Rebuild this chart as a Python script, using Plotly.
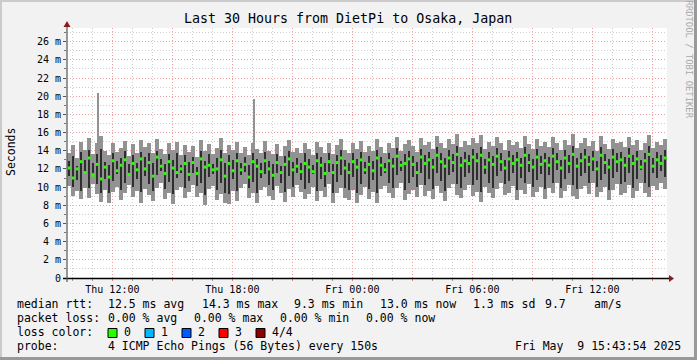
import pandas as pd
import plotly.graph_objects as go

# ---------------- data (milliseconds) ----------------
start_time = "2025-05-08 09:43:54"
end_time = "2025-05-09 15:43:54"
bin_minutes = 12

ping_min = [
10.1,9.0,9.6,8.7,9.9,8.8,10.3,9.2,8.4,9.7,
8.2,9.5,10.0,8.6,9.3,10.2,8.9,9.6,8.3,9.8,
9.1,8.5,9.9,10.4,8.7,9.4,8.1,9.7,10.0,8.8,
9.5,10.2,8.9,9.3,8.0,9.8,10.1,8.6,9.2,8.3,
8.1,9.6,8.5,9.9,10.3,8.8,9.4,8.2,9.7,10.0,
9.0,8.6,10.1,9.3,8.4,9.8,8.9,10.2,9.5,8.7,
9.2,10.0,8.5,9.6,8.9,10.3,8.2,9.4,9.9,8.8,
8.6,9.7,8.3,9.1,10.0,8.7,9.5,8.2,9.8,10.1,
9.3,8.8,9.9,10.4,8.6,9.2,9.7,8.9,10.2,9.0,
9.6,8.7,10.1,9.4,8.5,9.9,10.3,9.1,8.8,9.7,
10.2,9.0,9.5,8.4,10.0,9.3,8.8,9.8,10.4,9.1,
9.4,10.1,8.6,9.7,9.2,10.3,8.9,9.5,10.0,8.7,
9.9,9.3,10.5,8.8,9.6,10.2,9.0,8.7,9.8,10.1,
9.2,10.4,8.9,9.5,10.0,8.6,9.7,10.3,9.1,9.4,
10.2,8.8,9.6,10.5,9.3,8.9,10.1,9.7,10.4,9.8]

ping_q1 = [
11.2,10.0,10.8,9.6,11.5,9.9,11.6,10.3,9.4,10.9,
9.3,10.7,11.4,9.7,10.4,11.6,10.0,10.9,9.5,11.2,
10.3,9.6,11.3,11.8,9.8,10.6,9.2,11.0,11.5,9.9,
10.7,11.6,10.1,10.5,9.1,11.1,11.4,9.7,10.4,9.4,
9.2,10.9,9.6,11.3,11.7,9.9,10.6,9.3,11.0,11.4,
10.2,9.7,11.5,10.5,9.5,11.2,10.0,11.6,10.8,9.8,
10.4,11.4,9.6,10.9,10.0,11.7,9.3,10.6,11.3,9.9,
9.7,11.1,9.4,10.3,11.4,9.8,10.8,9.3,11.2,11.5,
10.5,9.9,11.3,11.8,9.7,10.4,11.1,10.0,11.6,10.2,
10.9,9.8,11.5,10.7,9.6,11.3,11.7,10.3,9.9,11.1,
11.6,10.2,10.8,9.5,11.4,10.5,9.9,11.2,11.8,10.3,
10.7,11.5,9.7,11.0,10.4,11.7,10.0,10.8,11.4,9.8,
11.3,10.5,11.9,9.9,10.9,11.6,10.2,9.8,11.2,11.5,
10.4,11.8,10.0,10.8,11.4,9.7,11.0,11.7,10.3,10.6,
11.6,9.9,10.9,11.9,10.5,10.0,11.5,11.0,11.8,11.1]

ping_q3 = [
12.9,13.4,12.3,13.9,13.0,14.1,12.6,13.6,14.2,12.8,
12.4,13.7,12.9,13.2,14.0,12.5,13.5,12.7,13.9,13.3,
13.8,12.6,14.0,13.1,12.5,13.6,13.0,13.8,12.4,13.5,
12.8,13.3,12.2,14.0,12.9,13.6,12.5,13.2,14.1,12.7,
13.5,13.0,13.8,12.6,13.3,12.4,13.7,13.1,12.7,13.9,
12.9,12.5,13.6,12.3,13.4,14.0,12.8,13.2,12.6,13.7,
13.1,12.4,13.8,13.3,12.7,13.8,12.5,13.5,14.1,13.0,
12.6,13.7,13.1,13.9,12.8,13.4,12.9,14.1,13.3,12.7,
13.8,13.2,14.3,12.9,13.6,14.0,13.4,12.8,14.2,13.5,
13.9,13.1,14.4,13.7,13.2,14.1,13.6,14.5,13.3,13.9,
13.5,14.2,13.8,14.4,13.1,13.9,13.4,14.3,13.7,13.0,
14.0,13.5,13.9,13.2,14.4,13.6,13.1,14.2,13.4,13.8,
13.3,14.3,13.7,13.0,14.1,13.5,14.5,13.2,13.8,14.2,
13.4,14.0,12.9,14.4,13.6,13.1,14.2,13.7,13.9,13.3,
14.3,13.5,14.0,13.0,13.8,14.5,13.2,13.9,13.5,14.1]

ping_max = [
13.8,14.6,13.2,15.0,14.1,15.4,13.6,14.8,15.6,14.0,
13.5,14.9,13.9,14.3,15.1,13.4,14.7,13.8,15.2,14.4,
14.9,13.7,15.3,14.2,13.6,14.8,14.1,15.0,13.5,14.6,
13.9,14.5,13.3,15.2,14.0,14.7,13.6,14.3,15.4,13.8,
14.6,14.1,15.0,13.7,14.4,13.5,14.9,14.2,13.8,15.1,
14.0,13.6,14.7,13.4,14.5,15.2,13.9,14.3,13.7,14.8,
14.2,13.5,15.0,14.4,13.8,14.9,13.6,14.6,15.3,14.1,
13.7,14.8,14.2,15.1,13.9,14.5,14.0,15.3,14.4,13.8,
14.9,14.3,15.5,14.0,14.7,15.2,14.5,13.9,15.4,14.6,
15.0,14.2,15.6,14.8,14.3,15.3,14.7,15.8,14.4,15.1,
14.6,15.4,14.9,15.7,14.2,15.0,14.5,15.5,14.8,14.1,
15.2,14.6,15.0,14.3,15.6,14.7,14.2,15.3,14.5,15.0,
14.4,15.5,14.8,14.1,15.2,14.6,15.8,14.3,14.9,15.4,
14.5,15.1,14.0,15.6,14.7,14.2,15.3,14.8,15.0,14.4,
15.5,14.6,15.2,14.1,14.9,15.7,14.3,15.0,14.6,15.3]

median_rtt = [
12.1,11.0,12.0,12.8,11.6,13.2,11.3,12.5,10.9,12.2,
11.1,12.9,11.8,12.4,13.0,11.4,12.6,11.9,13.1,12.0,
12.7,11.2,13.3,12.3,11.5,12.8,12.1,11.6,12.0,12.6,
11.4,12.7,11.5,13.1,12.2,12.4,11.9,12.0,13.0,11.2,
12.6,11.8,12.9,11.9,12.5,11.1,12.8,12.3,11.7,12.9,
12.0,11.3,12.7,11.6,12.5,13.1,11.9,12.3,11.7,12.6,
12.2,11.7,12.9,12.4,11.5,12.8,11.6,12.7,13.2,12.1,
11.6,12.8,12.2,13.0,11.9,12.5,11.8,13.2,12.4,11.9,
12.9,12.3,13.4,12.4,12.6,13.1,12.5,11.6,13.3,12.6,
13.0,12.2,13.5,12.8,12.3,13.2,12.7,13.6,12.4,12.9,
12.6,13.3,12.9,13.5,12.2,13.0,12.5,13.4,12.8,12.1,
13.1,12.6,13.0,12.4,13.5,12.7,12.2,13.3,12.5,12.9,
12.4,13.4,12.8,12.1,13.2,12.6,13.6,12.3,12.9,13.3,
12.5,13.1,12.0,13.5,12.7,12.2,13.3,12.8,13.0,12.4,
13.4,12.6,13.1,12.2,12.9,13.6,12.3,13.0,12.6,13.2]

spike_times = ["2025-05-08 11:16:00", "2025-05-08 19:05:50"]
spike_low = [13.5, 13.5]
spike_high = [20.3, 19.7]

y_tick_vals = [0, 2, 4, 6, 8, 10, 12, 14, 16, 18, 20, 22, 24, 26]
y_tick_text = ["0", "2 m", "4 m", "6 m", "8 m", "10 m", "12 m", "14 m",
               "16 m", "18 m", "20 m", "22 m", "24 m", "26 m"]
x_tick_vals = ["2025-05-08 12:00", "2025-05-08 15:00", "2025-05-08 18:00",
               "2025-05-08 21:00", "2025-05-09 00:00", "2025-05-09 03:00",
               "2025-05-09 06:00", "2025-05-09 09:00", "2025-05-09 12:00",
               "2025-05-09 15:00"]
x_tick_text = ["Thu 12:00", "", "Thu 18:00", "", "Fri 00:00", "",
               "Fri 06:00", "", "Fri 12:00", ""]

title_text = "Last 30 Hours from DietPi to Osaka, Japan"
rtt_label = "median rtt:"
rtt_items = ["12.5 ms avg", "14.3 ms max", "9.3 ms min", "13.0 ms now",
             "1.3 ms sd", "9.7", "am/s"]
loss_label = "packet loss:"
loss_items = ["0.00 % avg", "0.00 % max", "0.00 % min", "0.00 % now"]
color_label = "loss color:"
loss_names = ["0", "1", "2", "3", "4/4"]
loss_colors = ["#26ff00", "#00b8ff", "#0059ff", "#ff0000", "#8c0000"]
probe_label = "probe:"
probe_text = "4 ICMP Echo Pings (56 Bytes) every 150s"
stamp_text = "Fri May\u00a0\u00a09 15:43:54 2025"

# ---------------- layout geometry (pixels) ----------------
W, H = 697, 360
PL, PR, PT, PB = 67, 667, 28, 278


def px(x):
    return (x - PL) / (PR - PL)


def py(y):
    return (PB - y) / (PB - PT)


times = pd.date_range(start=start_time, periods=len(ping_max),
                      freq=f"{bin_minutes}min") + pd.Timedelta(minutes=bin_minutes / 2)
bw = bin_minutes * 60 * 1000

LIGHT = "#929292"
DARK = "#2e2e2e"
MONO = "DejaVu Sans Mono"

fig = go.Figure()
fig.add_trace(go.Bar(x=times, base=ping_min,
                     y=[h - l for h, l in zip(ping_max, ping_min)],
                     width=bw, marker=dict(color=LIGHT, line=dict(width=0))))
fig.add_trace(go.Bar(x=pd.to_datetime(spike_times), base=spike_low,
                     y=[h - l for h, l in zip(spike_high, spike_low)],
                     width=200000, marker=dict(color=LIGHT, line=dict(width=0))))
fig.add_trace(go.Bar(x=times, base=ping_q1,
                     y=[h - l for h, l in zip(ping_q3, ping_q1)],
                     width=bw * 0.55, marker=dict(color=DARK, line=dict(width=0))))
fig.add_trace(go.Scatter(x=times, y=median_rtt, mode="markers",
                         marker=dict(symbol="square", size=3, color=loss_colors[0],
                                     line=dict(width=0))))

fig.update_layout(
    width=W, height=H,
    margin=dict(l=PL, r=W - PR, t=PT, b=H - PB, pad=0),
    paper_bgcolor="#f2f2f2", plot_bgcolor="#ffffff",
    barmode="overlay", bargap=0, showlegend=False,
    font=dict(family=MONO, size=10, color="#000000"),
)
fig.update_xaxes(
    type="date", range=[start_time, end_time],
    tickvals=x_tick_vals, ticktext=x_tick_text,
    showgrid=True, gridcolor="#f0a0a0", griddash="1px,2px", gridwidth=1,
    ticks="outside", ticklen=2, tickcolor="#e08080",
    tickfont=dict(family=MONO, size=10, color="#000"),
    minor=dict(dtick=3600000, tick0="2025-05-08 10:00:00", showgrid=True,
               gridcolor="#cfcfcf", griddash="1px,2px", ticks="outside",
               ticklen=2, tickcolor="#999999"),
    showline=False, zeroline=False, fixedrange=True,
)
fig.update_yaxes(
    range=[0, 27.5], tickvals=y_tick_vals, ticktext=y_tick_text,
    showgrid=True, gridcolor="#f0a0a0", griddash="1px,2px", gridwidth=1,
    ticks="outside", ticklen=3, tickcolor="#555555",
    tickfont=dict(family=MONO, size=10, color="#000"),
    minor=dict(dtick=1, tick0=0, showgrid=True, gridcolor="#cfcfcf",
               griddash="1px,2px", ticks="outside", ticklen=2, tickcolor="#777777"),
    showline=False, zeroline=False, fixedrange=True,
)

shapes = []
# frame shading
shapes.append(dict(type="rect", xref="paper", yref="paper", x0=px(0), x1=px(W),
                   y0=py(0), y1=py(2), fillcolor="#cbcbcb", line=dict(width=0), layer="below"))
shapes.append(dict(type="rect", xref="paper", yref="paper", x0=px(0), x1=px(2),
                   y0=py(0), y1=py(H), fillcolor="#cbcbcb", line=dict(width=0), layer="below"))
shapes.append(dict(type="rect", xref="paper", yref="paper", x0=px(W - 3), x1=px(W),
                   y0=py(0), y1=py(H), fillcolor="#999999", line=dict(width=0), layer="below"))
shapes.append(dict(type="rect", xref="paper", yref="paper", x0=px(0), x1=px(W),
                   y0=py(H - 3), y1=py(H), fillcolor="#999999", line=dict(width=0), layer="below"))
# axes lines
shapes.append(dict(type="line", xref="paper", yref="paper", x0=px(63), x1=px(670),
                   y0=py(278.5), y1=py(278.5), line=dict(color="#000000", width=1.5)))
shapes.append(dict(type="line", xref="paper", yref="paper", x0=px(67), x1=px(67),
                   y0=py(282), y1=py(25), line=dict(color="#555555", width=1.2)))
# arrows
shapes.append(dict(type="path", xref="paper", yref="paper",
                   path=f"M {px(669)},{py(275)} L {px(674)},{py(278.5)} L {px(669)},{py(282)} Z",
                   fillcolor="#8b1a1a", line=dict(width=0)))
shapes.append(dict(type="path", xref="paper", yref="paper",
                   path=f"M {px(63.5)},{py(27)} L {px(67)},{py(21)} L {px(70.5)},{py(27)} Z",
                   fillcolor="#8b1a1a", line=dict(width=0)))

ann = []


def text(x, y, s, size=11.5, anchor="left", color="#000000", angle=0, yanchor="middle"):
    ann.append(dict(x=px(x), y=py(y), xref="paper", yref="paper", text=s,
                    showarrow=False, xanchor=anchor, yanchor=yanchor, textangle=angle,
                    borderpad=0, font=dict(family=MONO, size=size, color=color)))


text(348, 19, title_text, size=13.3, anchor="center")
text(11, 152, "Seconds", size=11.5, anchor="center", angle=-90)
text(688.5, 59, "RRDTOOL / TOBI OETIKER", size=8.9, anchor="center", angle=90, color="#a8a8a8")

text(16, 304.3, rtt_label)
for s, x in zip(rtt_items, [107.3, 200.7, 293.3, 379.3, 472.3, 544.3, 592.7]):
    text(x, 304.3, s)
text(16, 318, loss_label)
for s, x in zip(loss_items, [107.3, 193.3, 279.3, 365.3]):
    text(x, 318, s)
text(16, 332.3, color_label)
for i, (name, col) in enumerate(zip(loss_names, loss_colors)):
    bx = 108 + i * 37
    shapes.append(dict(type="rect", xref="paper", yref="paper", x0=px(bx), x1=px(bx + 9),
                       y0=py(337.5), y1=py(328.5), fillcolor=col,
                       line=dict(color="#000000", width=1)))
    text(bx + 15, 332.3, name)
text(16, 346, probe_label)
text(107.3, 346, probe_text)
text(514, 346, stamp_text)

fig.update_layout(shapes=shapes, annotations=ann)
fig.write_html("out.html")
